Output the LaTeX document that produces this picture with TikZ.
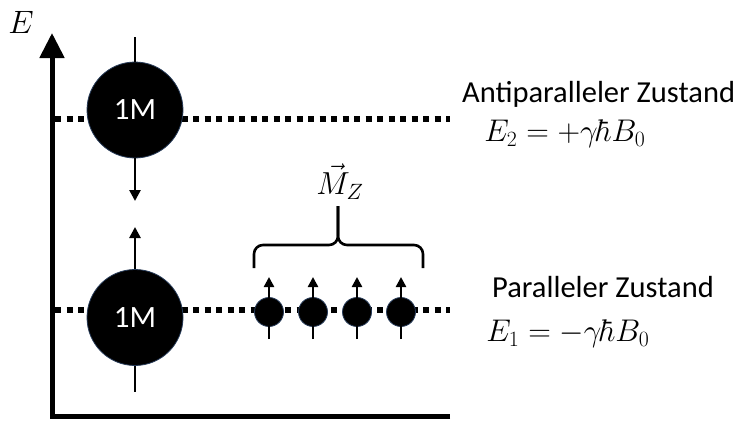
\documentclass[tikz,border=0pt]{standalone}
\usepackage{fontspec}
\setmainfont{Carlito}
\usetikzlibrary{arrows.meta}
\definecolor{rim}{RGB}{40,60,90}
\tikzset{
  bigspin/.style={circle,fill=black,draw=rim,line width=0.8pt,minimum size=96pt,inner sep=0pt,text=white,font=\fontsize{31}{31}\selectfont},
  smallspin/.style={circle,fill=black,draw=rim,line width=0.8pt,minimum size=29pt,inner sep=0pt},
  spinarrow/.style={line width=2.6pt,-{Triangle[width=11pt,length=11pt]}},
  spinline/.style={line width=2.6pt},
  level/.style={line width=5.5pt,dash pattern=on 6pt off 5.5pt},
  axis/.style={line width=5pt},
  lab/.style={anchor=west,inner sep=0pt,font=\fontsize{30.5}{30.5}\selectfont},
  mlab/.style={anchor=west,inner sep=0pt,font=\fontsize{24}{24}\selectfont,scale=1.26},
}
\begin{document}
\begin{tikzpicture}[x=1pt,y=-1pt]
\useasboundingbox (0,0) rectangle (742,421);
% axes
\coordinate (origin) at (52,416);
\coordinate (ytop) at (52,33);
\coordinate (xend) at (450,416);
\draw[axis] (xend) -- (49.5,416);
\draw[axis,-{Triangle[width=24pt,length=25pt]}] (52,418.5) -- (ytop);
\node[inner sep=0pt,font=\fontsize{24}{24}\selectfont,scale=1.3] (Elab) at (21,22) {$E$};
% energy levels
\coordinate (l2a) at (55,119);
\coordinate (l2b) at (450,119);
\coordinate (l1a) at (55,310);
\coordinate (l1b) at (450,310);
\draw[level] (l2a) -- (l2b);
\draw[level] (l1a) -- (l1b);
% big spins
\node[bigspin] (big2) at (135,110) {1M};
\coordinate (big2top) at (135,37);
\coordinate (big2tip) at (135,201);
\draw[spinline] (big2top) -- (big2.north);
\draw[spinarrow] (big2.south) -- (big2tip);
\node[bigspin] (big1) at (135,317.5) {1M};
\coordinate (big1tip) at (135,227);
\coordinate (big1bot) at (135,392);
\draw[spinarrow] (big1.north) -- (big1tip);
\draw[spinline] (big1.south) -- (big1bot);
% small spins
\foreach \i/\x in {1/269,2/313,3/357,4/401}{
  \node[smallspin] (s\i) at (\x,312) {};
  \coordinate (sb\i) at (\x,339);
  \coordinate (st\i) at (\x,277);
  \draw[line width=2.4pt,-{Triangle[width=10pt,length=10pt]}] (sb\i) -- (st\i);
}
% brace
\coordinate (brL) at (254,268);
\coordinate (brR) at (423,268);
\coordinate (brT) at (338,206);
\draw[line width=2.6pt,rounded corners=9pt] (brL) -- (254,245) -- (338,245) -- (brT);
\draw[line width=2.6pt,rounded corners=9pt] (brR) -- (423,245) -- (338,245) -- (brT);
\node[inner sep=0pt,font=\fontsize{24}{24}\selectfont,scale=1.28] (Mz) at (340,182) {$\vec{M}_Z$};
% labels
\node[lab] (anti) at (462,94) {Antiparalleler Zustand};
\node[mlab] (E2) at (484,134) {$E_2 = +\gamma\hbar B_0$};
\node[lab] (para) at (492,287) {Paralleler Zustand};
\node[mlab] (E1) at (486,334) {$E_1 = -\gamma\hbar B_0$};
\end{tikzpicture}
\end{document}
